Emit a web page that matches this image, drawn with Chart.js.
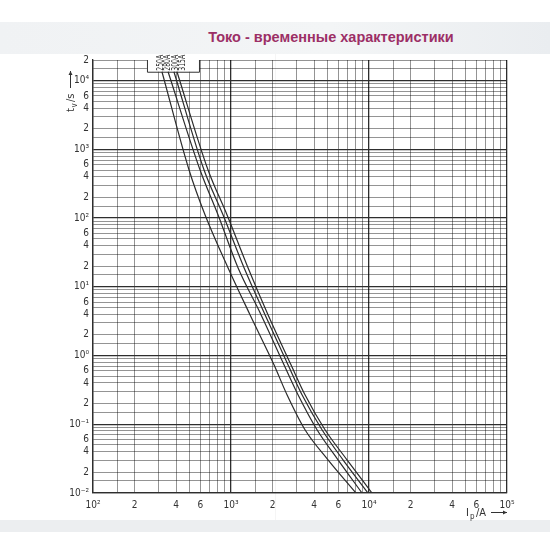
<!DOCTYPE html>
<html>
<head>
<meta charset="utf-8">
<script src="https://cdn.jsdelivr.net/npm/chart.js@4.4.0/dist/chart.umd.min.js"></script>
<style>
    html, body { margin: 0; padding: 0; background: #fff; }
    #wrap { position: relative; width: 550px; height: 550px; overflow: hidden; }
    #band { position: absolute; left: 0; top: 22px; width: 550px; height: 32px;
        background: linear-gradient(to right, #f0f2f4, #f3f5f6 60%, #eaedf0); }
    #title { position: absolute; left: 0; top: 29px; width: 550px; padding-left: 112px; box-sizing: border-box;
        text-align: center; font: bold 14.5px "Liberation Sans", Arial, sans-serif; color: #9c2f66; }
    #footer { position: absolute; left: 0; top: 520px; width: 550px; height: 12px; background: #eceef0; }
    #fold { position: absolute; left: 275px; top: 54px; width: 1px; height: 466px; background: rgba(0,0,0,0.04); }
    canvas { position: absolute; left: 0; top: 0; }
</style>
</head>
<body>
<div id="wrap">
    <div id="band"></div>
    <div id="title">Токо - временные характеристики</div>
    <div id="footer"></div>
    <div id="fold"></div>
    <canvas id="fuseChart" width="550" height="550"></canvas>
</div>
<script>
// time points t_v (s)
const times = [13500, 506, 112, 19, 3.93, 0.734, 0.269, 0.0832, 0.0304, 0.01];
// prospective current I_p (A) for each fuse at those times
const current250 = [316, 496, 648, 951, 1373, 2049, 2546, 3437, 5046, 8052];
const current280 = [350, 596, 805, 1124, 1650, 2421, 3059, 4200, 5963, 8899];
const current300 = [386, 637, 875, 1243, 1764, 2588, 3270, 4564, 6480, 9835];
const current315 = [406, 681, 935, 1328, 1854, 2721, 3437, 4800, 6928, 10513];
const fuseLabels = ['250A', '280A', '300A', '315A'];

// grid steps inside each decade and the ones that get a label
const gridSteps = [1, 1.5, 2, 3, 4, 5, 6, 7, 8, 9];
const labelSteps = [2, 4, 6];
const xDecades = [2, 3, 4, 5];
const yDecades = [-2, -1, 0, 1, 2, 3, 4];
const yMax = 2e4;

const sup = { '-': '⁻', '0': '⁰', '1': '¹', '2': '²', '3': '³', '4': '⁴', '5': '⁵' };
function pow10(e) {
    return '10' + String(e).split('').map(c => sup[c]).join('');
}

function gridValues(decades, max) {
    const out = [];
    decades.forEach(function(e, i) {
        gridSteps.forEach(function(s) {
            const v = s * Math.pow(10, e);
            if (i === decades.length - 1 && s > 1 && !max) return;
            if (max && v > max * 1.0001) return;
            out.push(v);
        });
    });
    return out;
}

function tickLabel(v) {
    const e = Math.floor(Math.log10(v) + 1e-9);
    const m = Math.round(v / Math.pow(10, e) * 10) / 10;
    if (m === 1) return pow10(e);
    if (labelSteps.indexOf(m) >= 0) return String(m);
    return '';
}

function isMajor(v) {
    const e = Math.log10(v);
    return Math.abs(e - Math.round(e)) < 1e-6;
}

const tickFont = { family: '"DejaVu Sans Condensed", "Liberation Sans Narrow", sans-serif', size: 10 };

const datasets = [current250, current280, current300, current315].map(function(cur, i) {
    return {
        label: fuseLabels[i],
        data: cur.map((c, j) => ({ x: c, y: times[j] })),
        borderColor: '#2b2b2b',
        borderWidth: 1.2,
        pointRadius: 0,
        cubicInterpolationMode: 'monotone',
        fill: false
    };
});

// white notch at the top with the fuse ratings, plus axis captions
const decorPlugin = {
    id: 'decor',
    beforeDatasetsDraw(chart) {
        const ctx = chart.ctx;
        const xs = chart.scales.x, ys = chart.scales.y;
        const top = ys.getPixelForValue(yMax);
        const boxBottom = ys.getPixelForValue(times[0]);
        const x0 = xs.getPixelForValue(current250[0]) - 15;
        const x1 = xs.getPixelForValue(current315[0]) + 22;
        ctx.save();
        ctx.fillStyle = '#fff';
        ctx.fillRect(x0, top - 3, x1 - x0, boxBottom - top + 3);
        ctx.strokeStyle = '#333';
        ctx.lineWidth = 1;
        ctx.beginPath();
        ctx.moveTo(x0 + 0.5, top);
        ctx.lineTo(x0 + 0.5, boxBottom + 0.5);
        ctx.lineTo(x1 + 0.5, boxBottom + 0.5);
        ctx.lineTo(x1 + 0.5, top);
        ctx.stroke();

        // fuse ratings written upward, one column each
        ctx.fillStyle = '#222';
        ctx.font = '9.5px "DejaVu Sans Condensed", sans-serif';
        ctx.textAlign = 'left';
        ctx.textBaseline = 'alphabetic';
        fuseLabels.forEach(function(lbl, i) {
            ctx.save();
            ctx.translate(x0 + 16 + i * 7.5, boxBottom - 1);
            ctx.rotate(-Math.PI / 2);
            ctx.scale(0.72, 1);
            ctx.fillText(lbl, 0, 0);
            ctx.restore();
        });
        ctx.restore();
    },
    afterDraw(chart) {
        const ctx = chart.ctx;
        ctx.save();
        ctx.fillStyle = '#333';
        ctx.strokeStyle = '#333';
        ctx.lineWidth = 1;
        ctx.textBaseline = 'alphabetic';

        // y caption: t_v/s with arrow, reading upward
        ctx.save();
        ctx.translate(74, 112);
        ctx.rotate(-Math.PI / 2);
        ctx.font = '11px "DejaVu Sans Condensed", sans-serif';
        ctx.fillText('t', 0, 0);
        ctx.font = '8px "DejaVu Sans Condensed", sans-serif';
        ctx.fillText('v', 4.5, 3);
        ctx.font = '11px "DejaVu Sans Condensed", sans-serif';
        ctx.fillText('/s', 10, 0);
        ctx.beginPath();
        ctx.moveTo(24, -3.5);
        ctx.lineTo(41, -3.5);
        ctx.stroke();
        ctx.beginPath();
        ctx.moveTo(41, -3.5);
        ctx.lineTo(37, -5.5);
        ctx.lineTo(37, -1.5);
        ctx.closePath();
        ctx.fill();
        ctx.restore();

        // x caption: I_p/A with arrow
        ctx.font = '11px "DejaVu Sans Condensed", sans-serif';
        ctx.fillText('I', 466, 516);
        ctx.font = '8px "DejaVu Sans Condensed", sans-serif';
        ctx.fillText('p', 470, 519);
        ctx.font = '11px "DejaVu Sans Condensed", sans-serif';
        ctx.fillText('/A', 476, 516);
        ctx.beginPath();
        ctx.moveTo(491, 512.5);
        ctx.lineTo(507, 512.5);
        ctx.stroke();
        ctx.beginPath();
        ctx.moveTo(507, 512.5);
        ctx.lineTo(503, 510.5);
        ctx.lineTo(503, 514.5);
        ctx.closePath();
        ctx.fill();
        ctx.restore();
    }
};

const xTicks = gridValues(xDecades);
const yTicks = gridValues(yDecades, yMax);

new Chart(document.getElementById('fuseChart').getContext('2d'), {
    type: 'line',
    data: { datasets: datasets },
    options: {
        responsive: false,
        animation: false,
        layout: { padding: { left: 53, right: 43, top: 60, bottom: 37 } },
        plugins: { legend: { display: false }, tooltip: { enabled: false } },
        scales: {
            x: {
                type: 'logarithmic',
                min: 100,
                max: 100000,
                afterBuildTicks: s => { s.ticks = xTicks.map(v => ({ value: v })); },
                afterFit: s => { s.height = 20; },
                ticks: {
                    autoSkip: false,
                    maxRotation: 0,
                    color: '#333',
                    font: tickFont,
                    padding: 6,
                    callback: v => tickLabel(v)
                },
                grid: {
                    color: c => isMajor(c.tick.value) ? '#2e2e2e' : 'rgba(0,0,0,0.42)',
                    lineWidth: c => isMajor(c.tick.value) ? 1.3 : 1,
                    drawTicks: false
                },
                border: { color: '#2e2e2e', width: 1.3 }
            },
            y: {
                type: 'logarithmic',
                min: 0.01,
                max: yMax,
                afterBuildTicks: s => { s.ticks = yTicks.map(v => ({ value: v })); },
                afterFit: s => { s.width = 40; },
                ticks: {
                    autoSkip: false,
                    color: '#333',
                    font: tickFont,
                    padding: 4,
                    callback: v => tickLabel(v)
                },
                grid: {
                    color: c => isMajor(c.tick.value) ? '#2e2e2e' : 'rgba(0,0,0,0.42)',
                    lineWidth: c => isMajor(c.tick.value) ? 1.3 : 1,
                    drawTicks: false
                },
                border: { color: '#2e2e2e', width: 1.3 }
            }
        }
    },
    plugins: [decorPlugin]
});
</script>
</body>
</html>
